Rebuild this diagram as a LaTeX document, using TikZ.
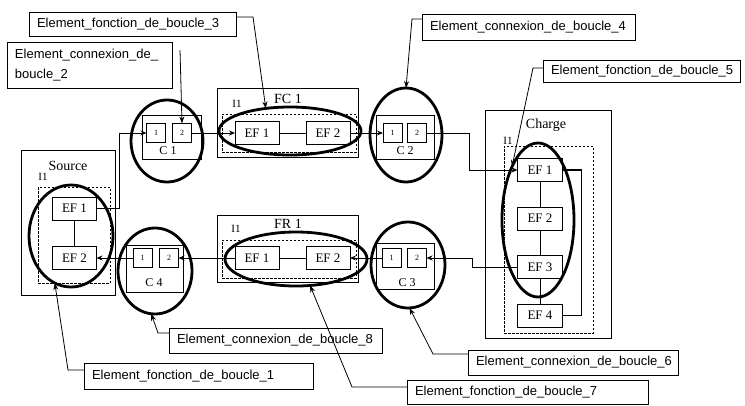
\documentclass[tikz,border=0pt]{standalone}
\usepackage{fontspec}
\setmainfont{Liberation Serif}
\newfontfamily\lblfont{Liberation Sans}
\usetikzlibrary{arrows.meta,shapes.geometric}
\begin{document}
\begin{tikzpicture}[x=1pt,y=-1pt,
  frame/.style={draw, line width=0.8pt, inner sep=0pt, outer sep=0pt},
  dbox/.style={draw, dash pattern=on 2.5pt off 1.5pt, line width=0.7pt, inner sep=0pt, outer sep=0pt},
  ef/.style={draw, fill=white, line width=0.8pt, minimum width=44pt, minimum height=23pt, inner sep=0pt, outer sep=0pt, font=\fontsize{13}{13}\selectfont},
  pinbox/.style={draw, fill=white, line width=0.8pt, minimum width=19pt, minimum height=19pt, inner sep=0pt, outer sep=0pt, font=\fontsize{8}{8}\selectfont},
  ring/.style={draw, ellipse, line width=2.8pt, inner sep=0pt, outer sep=0pt},
  ttl/.style={inner sep=0pt, font=\fontsize{14}{14}\selectfont},
  itag/.style={inner sep=0pt, font=\fontsize{11}{11}\selectfont},
  ctag/.style={inner sep=0pt, font=\fontsize{12}{12}\selectfont},
  lbl/.style={draw, fill=white, line width=0.8pt, inner xsep=8pt, inner ysep=0pt, outer sep=0pt, anchor=north west, align=left, font=\lblfont\fontsize{13}{20}\selectfont},
  conn/.style={line width=0.8pt, -{Stealth[length=6pt,width=5pt]}},
  lead/.style={line width=0.8pt, -{Stealth[length=7pt,width=5pt]}},
  link/.style={line width=0.8pt},
  ringback/.style={line width=1.5pt},
]
\useasboundingbox (0,0) rectangle (745,405);

% ---------- Source ----------
\node[frame, minimum width=94pt, minimum height=145pt] (src) at (68,222.5) {};
\node[ttl] (srcT) at (68,166) {Source};
\node[dbox, minimum width=72pt, minimum height=96pt] (srcI) at (74,235) {};
\node[itag] (srcIt) at (43,177) {I1};
\node[ef] (sEF1) at (74.5,208.5) {EF 1};
\node[ef] (sEF2) at (74.5,258) {EF 2};

% ---------- C1 ----------
\node[frame, minimum width=59pt, minimum height=44pt] (c1) at (171.5,137) {};
\node[pinbox] (c1a) at (156,133) {1};
\node[pinbox] (c1b) at (182,133) {2};
\node[ctag] (c1t) at (168,151) {C 1};

% ---------- FC1 ----------
\node[frame, minimum width=141pt, minimum height=69pt] (fc) at (287.5,122.5) {};
\node[ttl] (fcT) at (288,99) {FC 1};
\node[dbox, minimum width=134pt, minimum height=38pt] (fcI) at (289,133) {};
\node[itag] (fcIt) at (237,104) {I1};
\node[ef] (fcEF1) at (257,133) {EF 1};
\node[ef] (fcEF2) at (328,133) {EF 2};

% ---------- C2 ----------
\node[frame, minimum width=58pt, minimum height=44pt] (c2) at (405,137) {};
\node[pinbox] (c2a) at (392.5,133) {1};
\node[pinbox] (c2b) at (417,133) {2};
\node[ctag] (c2t) at (405,151) {C 2};

% ---------- Charge ----------
\node[frame, minimum width=126pt, minimum height=228pt] (ch) at (548,224) {};
\node[ttl] (chT) at (546,125) {Charge};
\node[dbox, minimum width=89pt, minimum height=187pt] (chI) at (548.5,239.5) {};
\node[itag] (chIt) at (508,141) {I1};
\node[ef, minimum width=45pt] (chEF1) at (540,170) {EF 1};
\node[ef, minimum width=45pt] (chEF2) at (540,218.5) {EF 2};
\node[ef, minimum width=45pt] (chEF3) at (540,267) {EF 3};
\node[ef, minimum width=45pt] (chEF4) at (540,315.5) {EF 4};

% ---------- C3 ----------
\node[frame, minimum width=58pt, minimum height=46pt] (c3) at (405,266) {};
\node[pinbox] (c3a) at (391.5,258) {1};
\node[pinbox] (c3b) at (417,258) {2};
\node[ctag] (c3t) at (407,283) {C 3};

% ---------- FR1 ----------
\node[frame, minimum width=141pt, minimum height=67pt] (fr) at (287.5,248.5) {};
\node[ttl] (frT) at (288,224) {FR 1};
\node[dbox, minimum width=134pt, minimum height=38pt] (frI) at (289,259) {};
\node[itag] (frIt) at (236,229) {I1};
\node[ef] (frEF1) at (257,258) {EF 1};
\node[ef] (frEF2) at (328,258) {EF 2};

% ---------- C4 ----------
\node[frame, minimum width=57pt, minimum height=47pt] (c4) at (154.5,268.5) {};
\node[pinbox] (c4a) at (142.5,258) {1};
\node[pinbox] (c4b) at (169,258) {2};
\node[ctag] (c4t) at (154,283) {C 4};

% ---------- connectors ----------
\draw[conn] (sEF1.east) -- ++(23,0) |- (c1a.west);
\draw[conn] (c1b.east) -- (fcEF1.west);
\draw[link] (fcEF1.east) -- (fcEF2.west);
\draw[conn] (fcEF2.east) -- (c2a.west);
\draw[conn] (c2b.east) -- ++(43,0) |- (chEF1.west);
\draw[link] (chEF1.south) -- (chEF2.north);
\draw[link] (chEF2.south) -- (chEF3.north);
\draw[link] (chEF3.south) -- (chEF4.north);
\draw[ringback] (chEF1.east) -- ++(19,0) |- (chEF4.east);
\draw[conn] (chEF3.west) -- ++(-45,0) |- (c3b.east);
\draw[conn] (c3a.west) -- (frEF2.east);
\draw[link] (frEF1.east) -- (frEF2.west);
\draw[conn] (frEF1.west) -- (c4b.east);
\draw[conn] (c4a.west) -- (sEF2.east);
\draw[link] (sEF1.south) -- (sEF2.north);

% ---------- loop ellipses ----------
\node[ring, minimum width=84pt, minimum height=102pt] (eSrc) at (71,236) {};
\node[ring, minimum width=72pt, minimum height=82pt] (eC1) at (167,141) {};
\node[ring, minimum width=142pt, minimum height=48pt] (eFC) at (290,131) {};
\node[ring, minimum width=72pt, minimum height=94pt] (eC2) at (406,135) {};
\node[ring, minimum width=72pt, minimum height=154pt] (eCh) at (538,220) {};
\node[ring, minimum width=74pt, minimum height=86pt] (eC3) at (408,265) {};
\node[ring, minimum width=142pt, minimum height=54pt] (eFR) at (296,259) {};
\node[ring, minimum width=74pt, minimum height=86pt] (eC4) at (155,271) {};

% ---------- labels ----------
\node[lbl, text width=191pt, minimum height=24pt] (L3) at (29,12) {Element\_fonction\_de\_boucle\_3};
\node[lbl, text width=149pt, minimum height=46pt] (L2) at (7,42) {Element\_connexion\_de\_\\boucle\_2};
\node[lbl, text width=197pt, minimum height=26pt] (L4) at (422,14) {Element\_connexion\_de\_boucle\_4};
\node[lbl, text width=181pt, minimum height=22pt] (L5) at (543,60) {Element\_fonction\_de\_boucle\_5};
\node[lbl, text width=197pt, minimum height=25pt] (L8) at (169,328) {Element\_connexion\_de\_boucle\_8};
\node[lbl, text width=213pt, minimum height=26pt] (L1) at (84,363) {Element\_fonction\_de\_boucle\_1};
\node[lbl, text width=194pt, minimum height=25pt] (L6) at (468,350) {Element\_connexion\_de\_boucle\_6};
\node[lbl, text width=225pt, minimum height=24pt] (L7) at (407,380) {Element\_fonction\_de\_boucle\_7};

\coordinate (L2s) at (180,50);

% ---------- leaders ----------
\draw[lead] ([yshift=7pt]L3.east) -- ++(17,0) -- (eFC.137);
\draw[lead] (L2s) -- (c1b.north);
\draw[lead] ([yshift=8pt]L4.west) -- ++(-10,0) -- (eC2.north);
\draw[lead] ([yshift=3pt]L5.west) -- ++(-10,0) -- (eCh.116);
\draw[lead] ([yshift=7.5pt]L8.west) -- ++(-11,0) -- (eC4.265);
\draw[lead] ([yshift=6pt]L1.west) -- ++(-16,0) -- (eSrc.251);
\draw[lead] ([yshift=8.5pt]L6.west) -- ++(-35,0) -- (eC3.272);
\draw[lead] ([yshift=5pt]L7.west) -- ++(-55,0) -- (eFR.298);
\end{tikzpicture}
\end{document}
